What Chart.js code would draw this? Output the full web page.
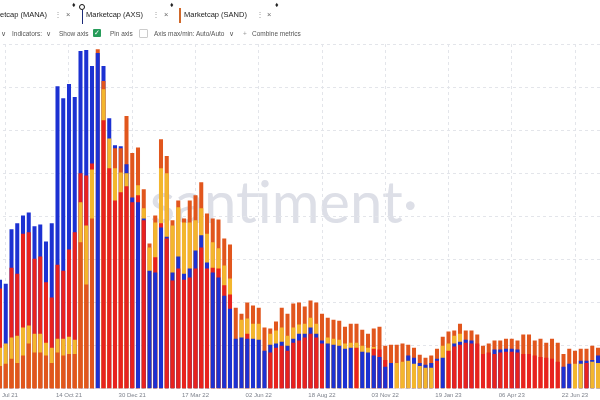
<!DOCTYPE html>
<html>
<head>
<meta charset="utf-8">
<script src="https://cdn.jsdelivr.net/npm/chart.js@4.4.0/dist/chart.umd.min.js"></script>
<style>
  html, body { margin: 0; padding: 0; background: #fff; overflow: hidden; width: 600px; height: 400px; }
  body { position: relative; font-family: "Liberation Sans", Arial, sans-serif; }
  .t { position: absolute; white-space: nowrap; line-height: 9px; }
  .r1 { font-size: 7.5px; color: #222; top: 10px; }
  .r2 { font-size: 6.5px; color: #555; top: 29px; }
  .ic { position: absolute; }
  #watermark { position: absolute; left: 150px; top: 172px; font-family: Lato, sans-serif; font-weight: 400;
               font-size: 58px; line-height: 58px; color: #dddfe7; white-space: nowrap; }
  #wrap { position: absolute; left: -3px; top: 0; width: 604px; height: 404px; }
</style>
</head>
<body>
<div id="watermark">santiment·</div>

<div id="wrap"><canvas id="chart"></canvas></div>

<!-- metric tabs -->
<span class="t r1" style="left:0px">etcap (MANA)</span>
<span class="t r1" style="left:54px;color:#999">⋮</span>
<span class="t r1" style="left:66px;color:#666">×</span>
<span class="t r1" style="left:72px;top:0px;font-size:7px">♦</span>
<div class="ic" style="left:79px;top:4px;width:4px;height:4px;border:1.5px solid #111;border-radius:50%"></div>
<div class="ic" style="left:81.5px;top:10px;width:1.5px;height:14px;background:#1b2a78"></div>
<span class="t r1" style="left:86px">Marketcap (AXS)</span>
<span class="t r1" style="left:152px;color:#999">⋮</span>
<span class="t r1" style="left:164px;color:#666">×</span>
<span class="t r1" style="left:170px;top:0px;font-size:7px">♦</span>
<div class="ic" style="left:179px;top:8px;width:2px;height:15px;background:#d0682a"></div>
<span class="t r1" style="left:184px">Marketcap (SAND)</span>
<span class="t r1" style="left:256px;color:#999">⋮</span>
<span class="t r1" style="left:267px;color:#666">×</span>
<span class="t r1" style="left:275px;top:0px;font-size:7px">♦</span>

<!-- options row -->
<span class="t r2" style="left:1px">∨</span>
<span class="t r2" style="left:12px">Indicators:</span>
<span class="t r2" style="left:46px">∨</span>
<span class="t r2" style="left:59px">Show axis</span>
<div class="ic" style="left:93px;top:29px;width:8px;height:8px;background:#279c5a;border-radius:1px;color:#fff;font-size:7px;line-height:8px;text-align:center;font-family:'DejaVu Sans'">✓</div>
<span class="t r2" style="left:110px">Pin axis</span>
<div class="ic" style="left:139px;top:29px;width:7px;height:7px;border:1px solid #ccc;border-radius:1px"></div>
<span class="t r2" style="left:154px">Axis max/min: Auto/Auto</span>
<span class="t r2" style="left:229px">∨</span>
<span class="t r2" style="left:243px;color:#999">+</span>
<span class="t r2" style="left:252px">Combine metrics</span>

<script>
// weekly bars, first week 22 Jul 21
const startDate = new Date(2021, 6, 22);
const tickLabels = ['29 Jul 21', '14 Oct 21', '30 Dec 21', '17 Mar 22', '02 Jun 22',
                    '18 Aug 22', '03 Nov 22', '19 Jan 23', '06 Apr 23', '22 Jun 23'];

// values (B), 0 = not shown
const orangeVals = [0.53, 0.58, 0.70, 0.60, 0.77, 1.05, 0.84, 0.84, 0.77, 0.60,
  0.84, 0.77, 0.81, 0.81, 3.40, 2.42, 3.95, 7.88, 7.14, 0,
  5.58, 5.58, 6.33, 5.47, 5.60, 4.63, 3.37, 4.02, 5.79, 5.40,
  3.91, 4.37, 3.95, 4.37, 4.49, 4.79, 4.07, 3.95, 3.93, 3.49,
  3.35, 1.88, 1.74, 2.00, 1.93, 1.88, 1.42, 1.40, 1.56, 1.88,
  1.74, 1.98, 2.00, 1.91, 2.05, 2.00, 1.74, 1.65, 1.60, 1.58,
  1.44, 1.51, 1.51, 1.37, 1.28, 1.40, 1.44, 1.00, 1.02, 1.02,
  1.05, 1.02, 0.95, 0.79, 0.72, 0.77, 0.93, 1.21, 1.33, 1.35,
  1.51, 1.35, 1.35, 1.26, 1.00, 1.05, 1.12, 1.12, 1.16, 1.16,
  1.12, 1.26, 1.26, 1.12, 1.16, 1.07, 1.16, 1.07, 0.81, 0.93,
  0.88, 0.93, 0.93, 1.00, 0.95];

const yellowVals = [0.95, 1.05, 1.19, 1.23, 1.42, 1.47, 1.28, 1.28, 1.07, 0.95,
  1.16, 1.16, 1.21, 1.14, 4.33, 3.79, 5.09, 0, 6.95, 5.81,
  5.12, 5.02, 5.00, 0, 4.72, 4.19, 3.28, 3.86, 5.12, 5.00,
  3.79, 4.21, 3.86, 3.86, 3.91, 4.19, 3.60, 3.40, 3.26, 2.86,
  2.56, 0, 1.60, 1.63, 1.51, 1.51, 0, 1.28, 1.35, 1.42,
  1.23, 1.42, 1.49, 1.51, 1.65, 1.51, 0, 1.19, 1.16, 1.14,
  1.05, 1.07, 1.07, 1.00, 0.95, 0.97, 0, 0, 0, 0.60,
  0.63, 0.65, 0.58, 0.53, 0.49, 0.49, 0, 1.00, 1.05, 1.23,
  1.28, 0, 0, 0, 0, 0, 0, 0, 0, 0,
  0, 0, 0, 0, 0, 0, 0, 0, 0, 0,
  0.58, 0.58, 0, 0.63, 0.60];

const redVals = [2.33, 0, 2.81, 2.67, 3.60, 3.63, 3.02, 3.07, 2.47, 2.12,
  2.88, 2.74, 3.23, 3.63, 5.00, 4.95, 5.23, 0, 6.23, 5.12,
  4.37, 4.56, 4.70, 4.33, 4.49, 3.91, 0, 3.05, 3.84, 3.49,
  2.51, 2.79, 2.53, 2.58, 2.79, 3.28, 2.79, 2.81, 2.79, 2.40,
  2.19, 0, 0, 1.28, 0, 0, 0, 0.84, 0.95, 1.00,
  0.88, 1.07, 1.12, 1.19, 1.28, 1.19, 1.05, 0, 0, 0,
  0, 0, 0.95, 0, 0, 0.93, 0.91, 0.67, 0, 0,
  0, 0, 0, 0, 0, 0, 0.65, 0, 0.88, 0.98,
  1.02, 1.07, 1.05, 1.05, 0.81, 0.84, 0.81, 0.84, 0.86, 0.86,
  0.84, 0.81, 0.81, 0.77, 0.74, 0.72, 0.70, 0.63, 0, 0,
  0, 0, 0.60, 0, 0];

const blueVals = [2.53, 2.44, 3.70, 3.84, 4.02, 4.09, 3.77, 3.81, 3.42, 3.84,
  7.02, 6.74, 7.07, 6.77, 7.84, 7.86, 7.49, 7.79, 7.49, 6.28,
  5.65, 5.63, 5.21, 4.44, 4.33, 3.95, 2.74, 2.70, 3.74, 3.53,
  2.70, 3.07, 2.67, 2.79, 3.21, 3.56, 2.93, 2.70, 2.58, 2.16,
  1.86, 1.16, 1.19, 1.16, 1.16, 1.14, 0.88, 1.02, 1.05, 1.09,
  1.00, 1.16, 1.28, 1.28, 1.42, 1.28, 1.12, 1.05, 1.02, 1.00,
  0.93, 0.95, 0, 0.86, 0.84, 0.77, 0.74, 0.51, 0.60, 0,
  0, 0.77, 0.72, 0.60, 0.56, 0.60, 0.70, 0.72, 0, 1.05,
  1.09, 1.14, 1.12, 0, 0, 0, 0.91, 0.91, 0.93, 0.93,
  0.91, 0, 0, 0, 0, 0, 0, 0, 0.51, 0.58,
  0, 0.65, 0.65, 0.67, 0.77];

const series = [
  { vals: orangeVals, color: '#e1561d' },
  { vals: yellowVals, color: '#f3b62d' },
  { vals: redVals, color: '#e8221e' },
  { vals: blueVals, color: '#1c31d2' }
];

const weeks = orangeVals.map((_, i) => {
  const d = new Date(startDate.getTime() + i * 7 * 86400000);
  return d.toDateString();
});

// bars overlap at one x: taller one behind, shorter one in front
const layers = series.map(() => ({ data: [], colors: [] }));
weeks.forEach((_, i) => {
  const sorted = series.map(s => ({ v: s.vals[i], c: s.color })).sort((a, b) => b.v - a.v);
  sorted.forEach((s, k) => {
    layers[k].data.push(s.v > 0 ? s.v : null);
    layers[k].colors.push(s.c);
  });
});

const gridColor = '#e3e5ea';

new Chart(document.getElementById('chart'), {
  type: 'bar',
  data: {
    labels: weeks,
    datasets: layers.map((l, k) => ({
      data: l.data,
      backgroundColor: l.colors,
      grouped: false,
      order: layers.length - k,
      barPercentage: 0.7,
      categoryPercentage: 1,
      borderWidth: 0
    }))
  },
  options: {
    responsive: true,
    maintainAspectRatio: false,
    animation: false,
    layout: { padding: { top: 44, bottom: 2, left: 0, right: 0 } },
    plugins: { legend: { display: false }, tooltip: { enabled: false } },
    scales: {
      x: {
        grid: {
          offset: false,
          drawTicks: false,
          color: ctx => ((ctx.index - 1) % 11 === 0 ? gridColor : 'rgba(0,0,0,0)')
        },
        border: { display: false, dash: [3, 3] },
        ticks: {
          autoSkip: false,
          maxRotation: 0,
          padding: 3,
          color: '#7d828c',
          font: { size: 6, family: 'Liberation Sans' },
          callback: (v, i) => ((i - 1) % 11 === 0 ? tickLabels[(i - 1) / 11] : '')
        }
      },
      y: {
        min: 0,
        max: 8,
        grid: { color: gridColor, drawTicks: false },
        border: { display: false, dash: [3, 3] },
        ticks: { display: false, stepSize: 1 }
      }
    }
  }
});
</script>
</body>
</html>
